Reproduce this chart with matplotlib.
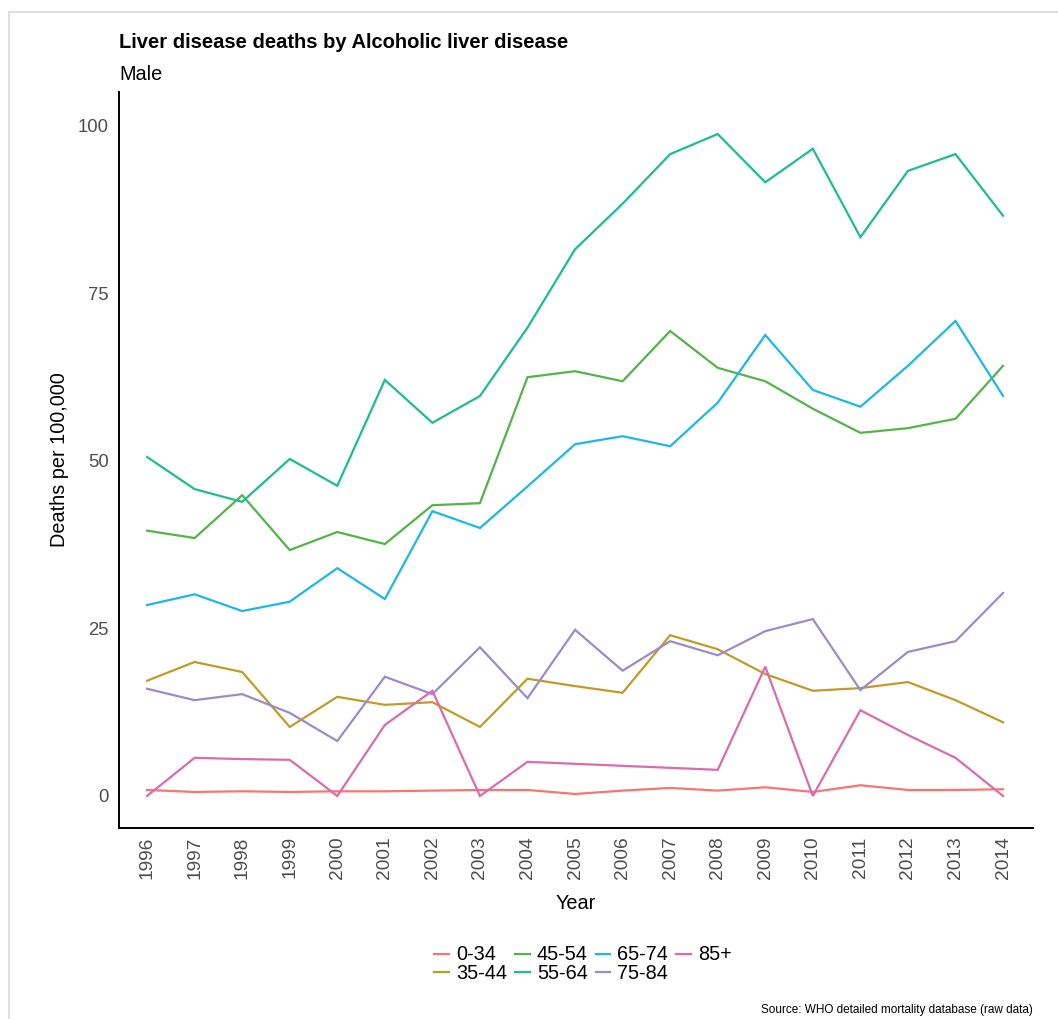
import matplotlib
matplotlib.use("Agg")
import matplotlib.pyplot as plt
from matplotlib.patches import Rectangle
from matplotlib.lines import Line2D

plt.rcParams['font.family'] = ['Liberation Sans', 'DejaVu Sans']

years = list(range(1996, 2015))
age_groups = ["0-34", "35-44", "45-54", "55-64", "65-74", "75-84", "85+"]
colors = ["#F8766D", "#C49A26", "#53B447", "#1DBE8E", "#1CB8E8", "#9A8CC8", "#DB6BAE"]

v_0_34 = [0.9, 0.6, 0.7, 0.6, 0.7, 0.7, 0.8, 0.9, 0.9, 0.3, 0.8, 1.2, 0.8, 1.3, 0.6, 1.6, 0.9, 0.9, 1.0]
v_35_44 = [17.2, 20.0, 18.5, 10.3, 14.8, 13.6, 14.0, 10.3, 17.5, 16.4, 15.4, 24.0, 21.9, 18.2, 15.7, 16.1, 17.0, 14.3, 11.0]
v_45_54 = [39.6, 38.5, 44.9, 36.7, 39.4, 37.6, 43.4, 43.7, 62.5, 63.4, 61.9, 69.4, 63.9, 61.9, 57.8, 54.2, 54.9, 56.3, 64.2]
v_55_64 = [50.6, 45.8, 43.9, 50.3, 46.3, 62.1, 55.7, 59.7, 69.9, 81.6, 88.4, 95.8, 98.8, 91.6, 96.6, 83.4, 93.3, 95.8, 86.6]
v_65_74 = [28.5, 30.1, 27.6, 29.0, 34.0, 29.4, 42.5, 40.0, 46.2, 52.5, 53.7, 52.2, 58.7, 68.8, 60.6, 58.1, 64.2, 70.9, 59.7]
v_75_84 = [16.0, 14.3, 15.2, 12.4, 8.2, 17.8, 15.2, 22.2, 14.6, 24.8, 18.7, 23.1, 21.0, 24.6, 26.4, 15.8, 21.5, 23.1, 30.3]
v_85p = [0.0, 5.7, 5.5, 5.4, 0.0, 10.6, 15.7, 0.0, 5.1, 4.8, 4.5, 4.2, 3.9, 19.3, 0.0, 12.8, 9.1, 5.7, 0.0]

series = [v_0_34, v_35_44, v_45_54, v_55_64, v_65_74, v_75_84, v_85p]

W, H = 1058, 1019
fig = plt.figure(figsize=(W / 100, H / 100), dpi=100)
fig.patch.set_facecolor("white")

# light frame
fig.patches.append(Rectangle((9 / W, -0.1), 1.2, 1 - 12 / H + 0.1, transform=fig.transFigure,
                             fill=False, edgecolor="#d9d9d9", linewidth=1.2, zorder=0))

left, right, top, bottom = 119, 1033, 92, 828
ax = fig.add_axes([left / W, 1 - bottom / H, (right - left) / W, (bottom - top) / H])

for name, vals, c in zip(age_groups, series, colors):
    ax.plot(years, vals, color=c, lw=1.6, label=name, solid_joinstyle="miter")

ax.set_xlim(1995.41, 2014.63)
ax.set_ylim(-4.78, 105.07)
ax.set_xticks(years)
ax.set_xticklabels([str(y) for y in years], rotation=90)
ax.set_yticks([0, 25, 50, 75, 100])
ax.tick_params(axis="y", length=0, labelsize=13.3, labelcolor="#4d4d4d", pad=7.5)
ax.tick_params(axis="x", length=0, labelsize=13.8, labelcolor="#4d4d4d", pad=6)
for s in ["top", "right"]:
    ax.spines[s].set_visible(False)
for s in ["left", "bottom"]:
    ax.spines[s].set_linewidth(1.4)
    ax.spines[s].set_color("black")

ax.set_xlabel("Year", fontsize=14.3, labelpad=11)
ax.set_ylabel("Deaths per 100,000", fontsize=14.3, labelpad=6)

fig.text(left / W, 1 - 42 / H, "Liver disease deaths by Alcoholic liver disease",
         fontsize=14.5, fontweight="bold", ha="left", va="center")
fig.text(left / W, 1 - 75 / H, "Male", fontsize=14.3, ha="left", va="center")

handles = [Line2D([0], [0], color=c, lw=1.6) for c in colors]
fig.legend(handles, age_groups, loc="center", bbox_to_anchor=(583 / W, 1 - 964 / H),
           ncol=4, frameon=False, fontsize=14.3, handlelength=0.75, handletextpad=0.35,
           columnspacing=0.4, labelspacing=-0.05)

fig.text(right / W, 1 - 1010 / H, "Source: WHO detailed mortality database (raw data)",
         fontsize=8.5, ha="right", va="center")

fig.savefig("out.png", dpi=100)
